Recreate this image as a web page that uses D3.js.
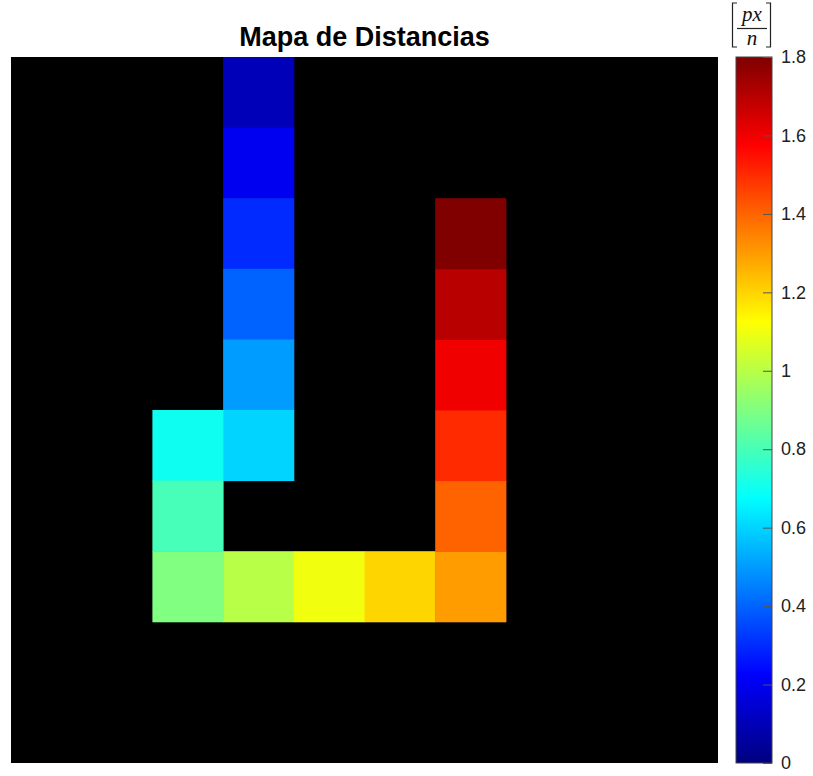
<!DOCTYPE html>
<html>
<head>
<meta charset="utf-8">
<script src="https://cdn.jsdelivr.net/npm/d3@7"></script>
<style>
  body { margin: 0; background: #fff; }
  svg { display: block; font-family: "Liberation Sans", Arial, sans-serif; }
</style>
</head>
<body>
<div id="chart"></div>
<script>
// Grid size (10 x 10 cells, 1-based indices)
const gridCols = d3.range(1, 11);
const gridRows = d3.range(1, 11);

// Non-empty cells: column, row (from top), distance value
const cellCols = [4, 4, 4, 4, 4, 4, 3, 3, 3, 4, 5, 6, 7, 7, 7, 7, 7, 7];
const cellRows = [1, 2, 3, 4, 5, 6, 6, 7, 8, 8, 8, 8, 8, 7, 6, 5, 4, 3];
const cellValues = [0.1, 0.2, 0.3, 0.4, 0.5, 0.6, 0.7, 0.8, 0.9, 1.0, 1.1, 1.2, 1.3, 1.4, 1.5, 1.6, 1.7, 1.8];

// Colorbar
const colorDomain = [0, 1.8];
const colorTicks = [0, 0.2, 0.4, 0.6, 0.8, 1, 1.2, 1.4, 1.6, 1.8];

const width = 813;
const height = 776;
const margin = { left: 11, top: 57, right: 95, bottom: 13 };
const plotW = 718 - margin.left;
const plotH = 763 - margin.top;

// MATLAB-like jet colormap
const clamp = v => Math.max(0, Math.min(1, v));
const jet = t => {
  const r = clamp(1.5 - Math.abs(4 * t - 3));
  const g = clamp(1.5 - Math.abs(4 * t - 2));
  const b = clamp(1.5 - Math.abs(4 * t - 1));
  return d3.rgb(r * 255, g * 255, b * 255).formatHex();
};
const colorScale = d3.scaleSequential(jet).domain(colorDomain);

const svg = d3.select('#chart')
  .append('svg')
  .attr('width', width)
  .attr('height', height);

const xScale = d3.scaleBand().domain(gridCols).range([margin.left, margin.left + plotW]);
const yScale = d3.scaleBand().domain(gridRows).range([margin.top, margin.top + plotH]);

// Background (empty cells)
svg.append('rect')
  .attr('x', margin.left)
  .attr('y', margin.top)
  .attr('width', plotW)
  .attr('height', plotH)
  .attr('fill', '#000');

const cells = cellValues.map((v, i) => ({ col: cellCols[i], row: cellRows[i], value: v }));

svg.append('g')
  .selectAll('rect')
  .data(cells)
  .enter()
  .append('rect')
  .attr('x', d => xScale(d.col))
  .attr('y', d => yScale(d.row))
  .attr('width', xScale.bandwidth() + 0.5)
  .attr('height', yScale.bandwidth() + 0.5)
  .attr('fill', d => colorScale(d.value));

// Title
svg.append('text')
  .attr('x', margin.left + plotW / 2)
  .attr('y', 46)
  .attr('text-anchor', 'middle')
  .attr('font-size', '27px')
  .attr('font-weight', 'bold')
  .attr('fill', '#000')
  .text('Mapa de Distancias');

// Colorbar
const cbX = 736;
const cbW = 36;
const cbScale = d3.scaleLinear().domain(colorDomain).range([margin.top + plotH, margin.top]);

const grad = svg.append('defs')
  .append('linearGradient')
  .attr('id', 'jet-grad')
  .attr('x1', 0).attr('y1', 1).attr('x2', 0).attr('y2', 0);

grad.selectAll('stop')
  .data(d3.range(0, 1.0001, 1 / 64))
  .enter()
  .append('stop')
  .attr('offset', d => d)
  .attr('stop-color', d => jet(d));

svg.append('rect')
  .attr('x', cbX)
  .attr('y', margin.top)
  .attr('width', cbW)
  .attr('height', plotH)
  .attr('fill', 'url(#jet-grad)')
  .attr('stroke', '#444')
  .attr('stroke-width', 1);

const cbAxis = d3.axisRight(cbScale)
  .tickValues(colorTicks)
  .tickSize(-9)
  .tickPadding(9)
  .tickFormat(d3.format('~g'));

const cbAxisGroup = svg.append('g')
  .attr('transform', `translate(${cbX + cbW},0)`)
  .call(cbAxis);

cbAxisGroup.select('.domain').remove();
cbAxisGroup.selectAll('.tick line').attr('stroke', '#555').attr('stroke-width', 1);
cbAxisGroup.selectAll('.tick text')
  .attr('font-size', '18px')
  .attr('font-family', '"Liberation Sans", Arial, sans-serif')
  .attr('fill', '#222');

// Colorbar unit label  [px / n]
const label = svg.append('g').attr('fill', 'none').attr('stroke', '#222').attr('stroke-width', 1.2);
label.append('path').attr('d', 'M737,3 H732.5 V47 H737');
label.append('path').attr('d', 'M766,3 H770.5 V47 H766');
label.append('line').attr('x1', 737).attr('x2', 767).attr('y1', 28.5).attr('y2', 28.5);

svg.append('text')
  .attr('x', 752)
  .attr('y', 21)
  .attr('text-anchor', 'middle')
  .attr('font-family', '"Liberation Serif", "DejaVu Serif", serif')
  .attr('font-style', 'italic')
  .attr('font-size', '21px')
  .attr('fill', '#111')
  .text('px');

svg.append('text')
  .attr('x', 752)
  .attr('y', 45)
  .attr('text-anchor', 'middle')
  .attr('font-family', '"Liberation Serif", "DejaVu Serif", serif')
  .attr('font-style', 'italic')
  .attr('font-size', '21px')
  .attr('fill', '#111')
  .text('n');
</script>
</body>
</html>
